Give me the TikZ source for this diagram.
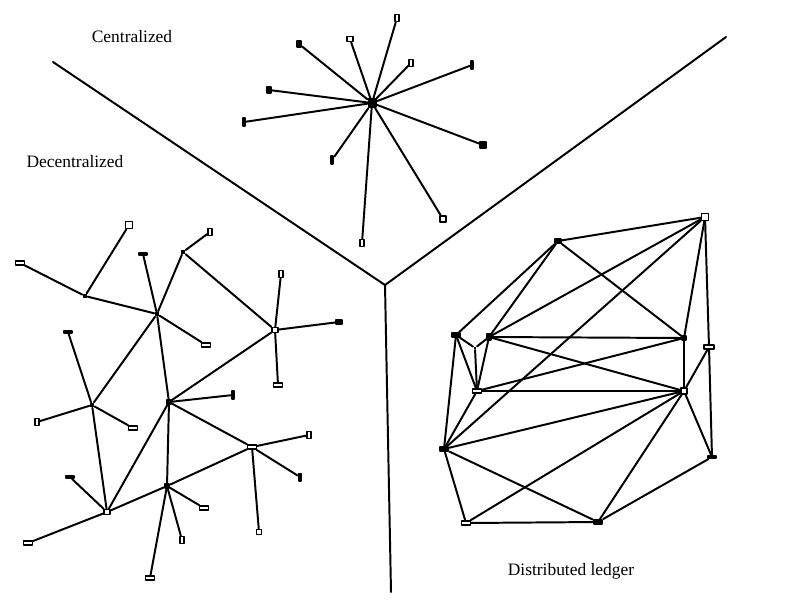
\documentclass[tikz,border=0pt]{standalone}
\usepackage{fontspec}
\setmainfont{Liberation Serif}
\begin{document}
\begin{tikzpicture}[x=0.025cm, y=-0.025cm, line width=1.4pt, line cap=round, line join=round,
		peer/.style={draw, fill=white, line width=1pt, inner sep=0pt, minimum width=4.5pt, minimum height=3.5pt},
		tallpeer/.style={peer, minimum width=3pt, minimum height=5pt},
		widepeer/.style={peer, minimum width=6pt, minimum height=3pt},
		blob/.style={draw, fill=black, inner sep=0pt, minimum width=3pt, minimum height=4pt},
		bar/.style={draw, fill=black, inner sep=0pt, minimum width=6pt, minimum height=1.5pt},
		vbar/.style={draw, fill=black, inner sep=0pt, minimum width=2pt, minimum height=6pt},
		junction/.style={fill=black, inner sep=0pt, minimum size=2.5pt},
		caption/.style={font=\fontsize{12.4}{14}\selectfont}]
	\useasboundingbox (0,0) rectangle (800,600);

	% 分隔线
	\coordinate (mid) at (385,285);
	\coordinate (edgeL) at (53,62);
	\coordinate (edgeR) at (726,37);
	\coordinate (edgeB) at (391,592);
	\draw (edgeL) -- (mid) -- (edgeR);
	\draw (mid) -- (edgeB);

	% 标题
	\node[caption] (tcen) at (132,37) {Centralized};
	\node[caption] (tdec) at (75,162) {Decentralized};
	\node[caption] (tdis) at (571,571) {Distributed ledger};

	% 中心化：星形
	\node[draw, fill=black, inner sep=0pt, minimum width=5pt, minimum height=6pt] (c0) at (372,103) {};
	\node[blob] (c1) at (299,44) {};
	\node[peer] (c2) at (350,39) {};
	\node[tallpeer] (c3) at (397,18) {};
	\node[tallpeer] (c4) at (411,63) {};
	\node[vbar] (c5) at (472,65) {};
	\node[blob] (c6) at (269,90) {};
	\node[vbar] (c7) at (244,122) {};
	\node[vbar] (c8) at (332,160) {};
	\node[tallpeer] (c9) at (362,243) {};
	\node[peer, minimum size=4.5pt] (c10) at (443,219) {};
	\node[peer, fill=black, minimum size=4.5pt] (c11) at (483,145) {};
	\foreach \leaf in {c1,c2,c3,c4,c5,c6,c7,c8,c9,c10,c11}
		\draw (c0) -- (\leaf);

	% 去中心化：多个枢纽
	\node[junction] (da) at (85,296) {};
	\node[widepeer] (da1) at (20,263) {};
	\node[peer, minimum size=5pt] (da2) at (129,225) {};
	\node[junction] (db) at (157,314) {};
	\node[bar] (db1) at (143,254) {};
	\node[widepeer] (db3) at (206,345) {};
	\node[junction] (dc) at (183,252) {};
	\node[tallpeer] (dc1) at (210,232) {};
	\node[peer] (dd) at (275,330) {};
	\node[tallpeer] (dd1) at (281,274) {};
	\node[blob, minimum width=4pt, minimum height=3pt] (dd2) at (339,322) {};
	\node[widepeer] (dd3) at (278,385) {};
	\node[blob, minimum size=2.5pt] (de) at (169,402) {};
	\node[vbar] (de1) at (233,395) {};
	\node[widepeer] (df) at (252,447) {};
	\node[tallpeer] (df1) at (309,435) {};
	\node[vbar, minimum height=5pt] (df2) at (300,477) {};
	\node[peer, minimum size=3.5pt] (df3) at (259,532) {};
	\node[blob, minimum size=3pt] (dg) at (167,486) {};
	\node[widepeer] (dg1) at (204,508) {};
	\node[tallpeer] (dg2) at (182,540) {};
	\node[widepeer] (dg3) at (150,578) {};
	\node[peer] (dh) at (107,512) {};
	\node[bar] (dh1) at (70,477) {};
	\node[widepeer] (dh2) at (28,543) {};
	\node[junction] (di) at (92,405) {};
	\node[bar] (di1) at (68,332) {};
	\node[tallpeer] (di2) at (37,422) {};
	\node[widepeer] (di3) at (133,428) {};
	\draw (da1) -- (da) -- (da2);
	\draw (da) -- (db);
	\draw (db1) -- (db) -- (de);
	\draw (db) -- (db3);
	\draw (db) -- (dc) -- (dc1);
	\draw (dc) -- (dd);
	\draw (db) -- (di);
	\draw (dd) -- (dd1);
	\draw (dd) -- (dd2);
	\draw (dd) -- (dd3);
	\draw (de) -- (dd);
	\draw (de) -- (de1);
	\draw (de) -- (df);
	\draw (de) -- (dg);
	\draw (de) -- (dh);
	\draw (df) -- (df1);
	\draw (df) -- (df2);
	\draw (df) -- (df3);
	\draw (df) -- (dg);
	\draw (dg) -- (dg1);
	\draw (dg) -- (dg2);
	\draw (dg) -- (dg3);
	\draw (dg) -- (dh);
	\draw (dh) -- (dh1);
	\draw (dh) -- (dh2);
	\draw (di1) -- (di) -- (dh);
	\draw (di) -- (di2);
	\draw (di) -- (di3);

	% 分布式账本：网状
	\node[peer, minimum size=5pt] (l1) at (705,217) {};
	\node[blob, minimum width=4pt, minimum height=3pt] (l2) at (558,241) {};
	\node[bar, minimum height=2.5pt] (l3) at (456,335) {};
	\node[junction, minimum size=1.5pt] (l4) at (475,348) {};
	\node[blob, minimum width=2.5pt] (l5) at (489,337) {};
	\node[blob, minimum size=2.5pt] (l6) at (684,338) {};
	\node[widepeer, minimum width=7pt] (l7) at (709,347) {};
	\node[widepeer] (l8) at (477,391) {};
	\node[peer, minimum size=4.5pt] (l9) at (684,391) {};
	\node[bar, minimum height=2.5pt] (l10) at (444,449) {};
	\node[bar] (l11) at (712,457) {};
	\node[widepeer] (l12) at (466,523) {};
	\node[bar, minimum height=3pt] (l13) at (598,522) {};
	\draw (l1) -- (l2);
	\draw (l1) -- (l5);
	\draw (l1) -- (l10);
	\draw (l1) -- (l6);
	\draw (l1) -- (l7) -- (l11);
	\draw (l2) -- (l3);
	\draw (l2) -- (l5);
	\draw (l2) -- (l6);
	\draw (l3) -- (l4) -- (l5);
	\draw (l4) -- (l8);
	\draw (l3) -- (l8);
	\draw (l3) -- (l10);
	\draw (l5) -- (l6);
	\draw (l5) -- (l9);
	\draw (l5) -- (l8);
	\draw (l6) -- (l8);
	\draw (l6) -- (l9);
	\draw (l8) -- (l9);
	\draw (l8) -- (l10);
	\draw (l10) -- (l9);
	\draw (l10) -- (l13);
	\draw (l10) -- (l12);
	\draw (l12) -- (l9);
	\draw (l12) -- (l13);
	\draw (l13) -- (l9);
	\draw (l13) -- (l11);
	\draw (l9) -- (l7);
	\draw (l9) -- (l11);
\end{tikzpicture}
\end{document}
